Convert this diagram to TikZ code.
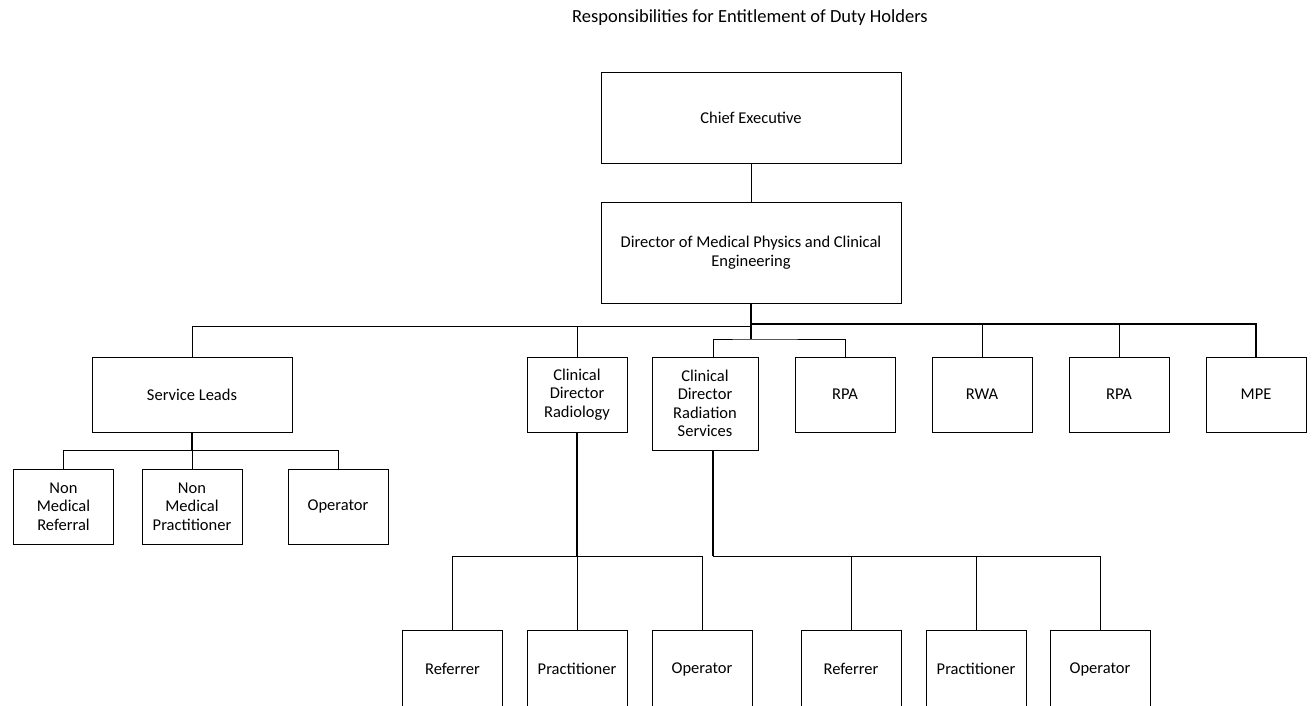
\documentclass[tikz,border=0pt]{standalone}
\usepackage{fontspec}
\setmainfont{Carlito}
\begin{document}
\begin{tikzpicture}[x=1pt,y=-1pt,
  box/.style={draw,line width=1pt,rectangle,inner sep=0pt,align=center,
    font=\fontsize{16.5}{18.5}\selectfont},
  conn/.style={line width=1pt},
  thick conn/.style={line width=1.8pt}]
\useasboundingbox (0,0) rectangle (1312,705);
\clip (0,0) rectangle (1312,705);
\fill[white] (0,0) rectangle (1312,705);
\node[font=\fontsize{18.5}{20}\selectfont] (title) at (750,18) {Responsibilities for Entitlement of Duty Holders};
\node[box,minimum width=300pt,minimum height=91pt] (ce) at (751,117.5) {Chief Executive};
\node[box,minimum width=300pt,minimum height=101pt] (dir) at (751,252.5) {Director of Medical Physics and Clinical\\Engineering};
\node[box,minimum width=200pt,minimum height=75pt] (sl) at (192,394.5) {Service Leads};
\node[box,minimum width=100pt,minimum height=75pt] (cdr) at (577,394.5) {Clinical\\Director\\Radiology};
\node[box,minimum width=106pt,minimum height=93pt] (cdrs) at (705,403.5) {Clinical\\Director\\Radiation\\Services};
\node[box,minimum width=100pt,minimum height=75pt] (rpa1) at (845,394.5) {RPA};
\node[box,minimum width=100pt,minimum height=75pt] (rwa) at (982,394.5) {RWA};
\node[box,minimum width=100pt,minimum height=75pt] (rpa2) at (1119,394.5) {RPA};
\node[box,minimum width=100pt,minimum height=75pt] (mpe) at (1256,394.5) {MPE};
\node[box,minimum width=100pt,minimum height=75pt] (nmr) at (63.5,506.5) {Non\\Medical\\Referral};
\node[box,minimum width=100pt,minimum height=75pt] (nmp) at (192,506.5) {Non\\Medical\\Practitioner};
\node[box,minimum width=100pt,minimum height=75pt] (op1) at (338,506.5) {Operator};
\node[box,minimum width=100pt,minimum height=78pt] (ref1) at (452.5,669) {Referrer};
\node[box,minimum width=100pt,minimum height=78pt] (pr1) at (577,669) {Practitioner};
\node[box,minimum width=100pt,minimum height=78pt] (op2) at (702,669) {Operator};
\node[box,minimum width=100pt,minimum height=78pt] (ref2) at (851,669) {Referrer};
\node[box,minimum width=100pt,minimum height=78pt] (pr2) at (976,669) {Practitioner};
\node[box,minimum width=100pt,minimum height=78pt] (op3) at (1100,669) {Operator};
% bus coordinates
\coordinate (busL) at (751,326);
\coordinate (busR) at (751,324);
\coordinate (busM) at (751,339);
\coordinate (cdrsT) at (713,357);
\coordinate (cdrsB) at (713,450);
\coordinate (slbus) at (192,450);
\coordinate (rbus) at (577,556);
\coordinate (sbus) at (713,556);
% connectors
\draw[conn] (ce.south) -- (dir.north);
\draw[thick conn] (dir.south) -- (busM);
\draw[conn] (sl.north) |- (busL);
\draw[conn] (cdr.north) -- (cdr.north |- busL);
\draw[thick conn] (busR) -| (mpe.north);
\draw[conn] (rwa.north) -- (rwa.north |- busR);
\draw[conn] (rpa2.north) -- (rpa2.north |- busR);
\draw[conn] (cdrsT) |- (busM) -| (rpa1.north);
\draw[thick conn] (sl.south) -- (slbus);
\draw[conn] (nmr.north) -- (nmr.north |- slbus) -- (op1.north |- slbus) -- (op1.north);
\draw[conn] (nmp.north) -- (slbus);
\draw[thick conn] (cdr.south) -- (rbus);
\draw[conn] (ref1.north) -- (ref1.north |- rbus) -- (op2.north |- rbus) -- (op2.north);
\draw[conn] (pr1.north) -- (rbus);
\draw[thick conn] (cdrsB) -- (sbus);
\draw[conn] (sbus) -- (op3.north |- sbus) -- (op3.north);
\draw[conn] (ref2.north) -- (ref2.north |- sbus);
\draw[conn] (pr2.north) -- (pr2.north |- sbus);
\end{tikzpicture}
\end{document}
